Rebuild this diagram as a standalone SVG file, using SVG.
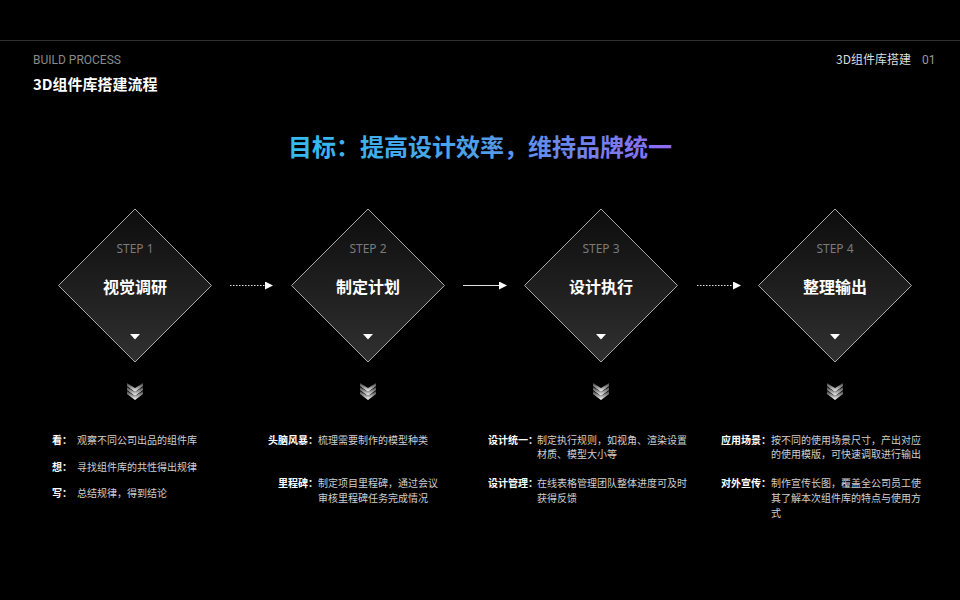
<svg xmlns="http://www.w3.org/2000/svg" width="960" height="600" viewBox="0 0 960 600">
<defs>
<linearGradient id="dg" x1="0" y1="0" x2="0" y2="1">
<stop offset="0" stop-color="#0d0d0d"/>
<stop offset="1" stop-color="#303030"/>
</linearGradient>
<linearGradient id="tg" x1="290" y1="0" x2="670" y2="0" gradientUnits="userSpaceOnUse">
<stop offset="0" stop-color="#31bdef"/>
<stop offset="0.5" stop-color="#4f9ee8"/>
<stop offset="1" stop-color="#8f6af2"/>
</linearGradient>
<linearGradient id="cg" x1="0" y1="0" x2="0" y2="1">
<stop offset="0" stop-color="#3a3a3a"/>
<stop offset="1" stop-color="#ffffff"/>
</linearGradient>
<marker id="ah" markerWidth="8" markerHeight="8" refX="7" refY="4" orient="auto" markerUnits="userSpaceOnUse">
<path d="M0,0 L8,4 L0,8 Z" fill="#ffffff"/>
</marker>
<g id="chev">
<path d="M-8,0 L0,5 L8,0 L8,3 L0,9 L-8,3 Z" fill="url(#cg)"/>
</g>
</defs>
<style>
.cjk{font-family:"Noto Sans CJK SC","Noto Sans",sans-serif}
.step{font-family:"Noto Sans","Noto Sans CJK SC",sans-serif;font-size:12px;fill:#7a7a7a;text-anchor:middle}
.lbl{font-family:"Noto Sans CJK SC",sans-serif;font-size:16px;font-weight:bold;fill:#ffffff;text-anchor:middle}
.dia{fill:url(#dg);stroke:#a8a8a8;stroke-width:1}
.k{font-family:"Noto Sans CJK SC",sans-serif;font-size:10px;font-weight:bold;fill:#ffffff}
.t{font-family:"Noto Sans CJK SC",sans-serif;font-size:10px;fill:#cfcfcf}
.ln{stroke:#e0e0e0;stroke-width:1.2;fill:none}
</style>
<rect width="960" height="600" fill="#000000"/>
<line x1="0" y1="40.5" x2="960" y2="40.5" stroke="#2e2e2e" stroke-width="1"/>
<text x="33" y="64" font-family="Roboto,'Noto Sans',sans-serif" font-size="12" fill="#8a8a8a">BUILD PROCESS</text>
<text x="33" y="90" class="cjk" font-size="15" font-weight="bold" fill="#ffffff">3D组件库搭建流程</text>
<text x="911" y="64" class="cjk" font-size="12" fill="#dddddd" text-anchor="end">3D组件库搭建</text>
<text x="922" y="64" font-family="Roboto,'Noto Sans',sans-serif" font-size="12" fill="#9a9a9a">01</text>
<text x="480" y="156" class="cjk" font-size="24" font-weight="bold" fill="url(#tg)" text-anchor="middle">目标：提高设计效率，维持品牌统一</text>

<g id="connectors">
<line x1="230" y1="285.5" x2="272" y2="285.5" class="ln" stroke-dasharray="1.5,1.5" marker-end="url(#ah)"/>
<line x1="463" y1="285.5" x2="506" y2="285.5" class="ln" marker-end="url(#ah)"/>
<line x1="697" y1="285.5" x2="740" y2="285.5" class="ln" stroke-dasharray="1.5,1.5" marker-end="url(#ah)"/>
</g>

<g id="step1">
<path class="dia" d="M135,209 L211.5,285.5 L135,362 L58.5,285.5 Z"/>
<text x="135" y="253" class="step">STEP 1</text>
<text x="135" y="293" class="lbl">视觉调研</text>
<path d="M130,334 L140,334 L135,339.5 Z" fill="#ffffff"/>
<use href="#chev" x="135" y="383"/><use href="#chev" x="135" y="387"/><use href="#chev" x="135" y="391"/>
</g>
<g id="step2">
<path class="dia" d="M368,209 L444.5,285.5 L368,362 L291.5,285.5 Z"/>
<text x="368" y="253" class="step">STEP 2</text>
<text x="368" y="293" class="lbl">制定计划</text>
<path d="M363,334 L373,334 L368,339.5 Z" fill="#ffffff"/>
<use href="#chev" x="368" y="383"/><use href="#chev" x="368" y="387"/><use href="#chev" x="368" y="391"/>
</g>
<g id="step3">
<path class="dia" d="M601,209 L677.5,285.5 L601,362 L524.5,285.5 Z"/>
<text x="601" y="253" class="step">STEP 3</text>
<text x="601" y="293" class="lbl">设计执行</text>
<path d="M596,334 L606,334 L601,339.5 Z" fill="#ffffff"/>
<use href="#chev" x="601" y="383"/><use href="#chev" x="601" y="387"/><use href="#chev" x="601" y="391"/>
</g>
<g id="step4">
<path class="dia" d="M835,209 L911.5,285.5 L835,362 L758.5,285.5 Z"/>
<text x="835" y="253" class="step">STEP 4</text>
<text x="835" y="293" class="lbl">整理输出</text>
<path d="M830,334 L840,334 L835,339.5 Z" fill="#ffffff"/>
<use href="#chev" x="835" y="383"/><use href="#chev" x="835" y="387"/><use href="#chev" x="835" y="391"/>
</g>

<g id="desc1">
<text x="52" y="444" class="k">看：</text><text x="77" y="444" class="t">观察不同公司出品的组件库</text>
<text x="52" y="471" class="k">想：</text><text x="77" y="471" class="t">寻找组件库的共性得出规律</text>
<text x="52" y="497" class="k">写：</text><text x="77" y="497" class="t">总结规律，得到结论</text>
</g>
<g id="desc2">
<text x="318" y="444" class="k" text-anchor="end">头脑风暴：</text><text x="318" y="444" class="t">梳理需要制作的模型种类</text>
<text x="318" y="487" class="k" text-anchor="end">里程碑：</text><text x="318" y="487" class="t">制定项目里程碑，通过会议</text>
<text x="318" y="502" class="t">审核里程碑任务完成情况</text>
</g>
<g id="desc3">
<text x="488" y="444" class="k">设计统一：</text><text x="537" y="444" class="t">制定执行规则，如视角、渲染设置</text>
<text x="537" y="458" class="t">材质、模型大小等</text>
<text x="488" y="487" class="k">设计管理：</text><text x="537" y="487" class="t">在线表格管理团队整体进度可及时</text>
<text x="537" y="502" class="t">获得反馈</text>
</g>
<g id="desc4">
<text x="721" y="444" class="k">应用场景：</text><text x="771" y="444" class="t">按不同的使用场景尺寸，产出对应</text>
<text x="771" y="458" class="t">的使用模版，可快速调取进行输出</text>
<text x="721" y="487" class="k">对外宣传：</text><text x="771" y="487" class="t">制作宣传长图，覆盖全公司员工使</text>
<text x="771" y="502" class="t">其了解本次组件库的特点与使用方</text>
<text x="771" y="517" class="t">式</text>
</g>
</svg>
